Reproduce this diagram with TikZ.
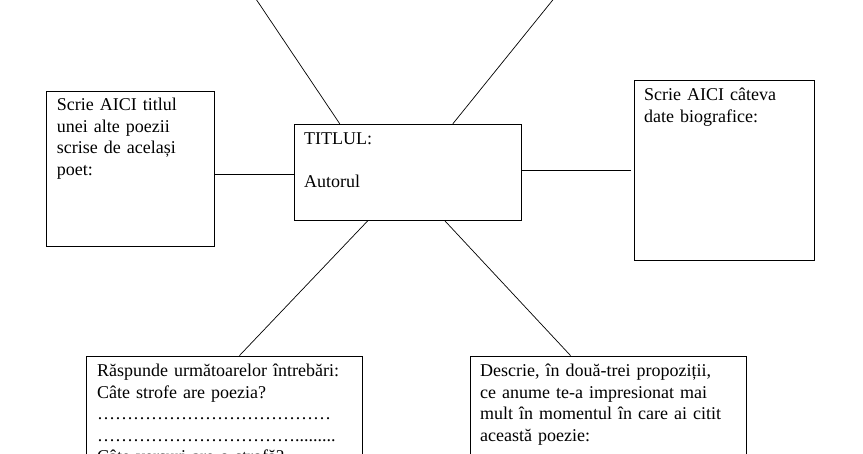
\documentclass[tikz,border=0pt]{standalone}
\usepackage{fontspec}
\setmainfont{Liberation Serif}
\usetikzlibrary{calc}
\begin{document}
\begin{tikzpicture}[x=1pt,y=-1pt,
  box/.style={draw, line width=0.9pt, rectangle, inner sep=0pt},
  txt/.style={anchor=base west, inner sep=0pt, text width=300pt, align=left,
    font=\fontsize{18}{21.5}\selectfont},
  link/.style={line width=0.7pt}]
\useasboundingbox (0,0) rectangle (863,454);
\clip (0,0) rectangle (863,454);
\fill[white] (0,0) rectangle (863,454);
% boxes
\node[box, minimum width=227.5pt, minimum height=96pt] (c) at (408,172.3) {};
\node[box, minimum width=168pt, minimum height=155pt] (l) at (130,168.5) {};
\node[box, minimum width=180pt, minimum height=180pt] (r) at (724,170) {};
\node[box, minimum width=275.3pt, minimum height=180pt] (bl) at (224.3,446) {};
\node[box, minimum width=275.3pt, minimum height=180pt] (br) at (608.3,446) {};
% texts
\node[txt] (ct) at (304,145) {TITLUL:\\ \mbox{}\\ Autorul};
\node[txt] (lt) at (56.7,110.7) {Scrie AICI titlul\\ unei alte poezii\\ scrise de același\\ poet:};
\node[txt] (rt) at (644,101) {Scrie AICI câteva\\ date biografice:};
\node[txt] (blt) at (97,377) {Răspunde următoarelor întrebări:\\ Câte strofe are poezia?\\
  …………………………………\\ …………………………….........\\ Câte versuri are o strofă?};
\node[txt] (brt) at (480,377) {Descrie, în două-trei propoziții,\\ ce anume te-a impresionat mai\\
  mult în momentul în care ai citit\\ această poezie:};
% connector points
\coordinate (tl) at (236.5,-30);
\coordinate (tr) at (577,-30);
\coordinate (cl) at ($(c.west)+(0,1.7)$);
\coordinate (cr) at ($(c.east)+(0,-2.3)$);
\coordinate (rgap) at ($(r.west)+(-3,0)$);
% connectors
\draw[link] ($(c.north west)+(46,0)$) -- (tl);
\draw[link] ($(c.north west)+(159,0)$) -- (tr);
\draw[link] (cl) -- (cl -| l.east);
\draw[link] (cr) -- (rgap);
\draw[link] ($(c.south west)+(74,0)$) -- ($(bl.north west)+(153.3,0)$);
\draw[link] ($(c.south west)+(151,0)$) -- ($(br.north west)+(100.3,0)$);
\end{tikzpicture}
\end{document}
